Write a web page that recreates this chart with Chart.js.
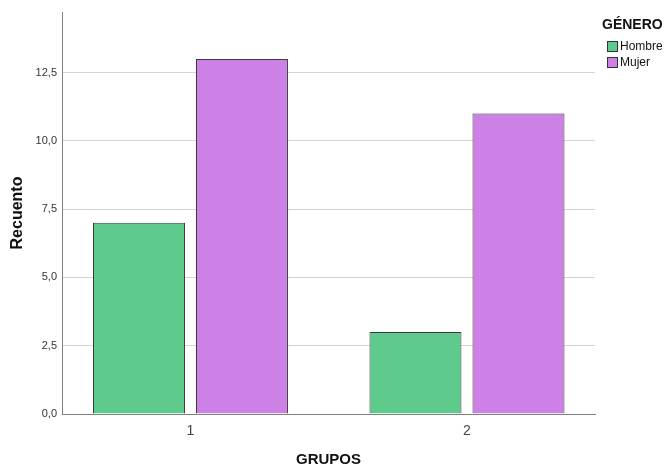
<!DOCTYPE html>
<html>
<head>
<meta charset="utf-8">
<script src="https://cdn.jsdelivr.net/npm/chart.js@4/dist/chart.umd.min.js"></script>
<style>
  html, body { margin: 0; padding: 0; background: #fff; }
  #wrap { position: relative; width: 671px; height: 466px; font-family: "Liberation Sans", Arial, sans-serif; }
  #legend { position: absolute; left: 602px; top: 16px; color: #111; }
  #legend .title { font-weight: bold; font-size: 14px; margin-bottom: 6px; }
  #legend .item { display: flex; align-items: center; font-size: 12px; height: 16px; margin-left: 5px; }
  #legend .box { width: 11px; height: 11px; border: 1px solid #333; margin-right: 2px; box-sizing: border-box; }
</style>
</head>
<body>
<div id="wrap">
  <canvas id="chart" width="671" height="466"></canvas>
  <div id="legend"></div>
</div>
<script>
const grupos = ["1", "2"];
const hombre = [7, 3];
const mujer = [13, 11];
const yTicks = [0, 2.5, 5, 7.5, 10, 12.5];
const series = [
  { name: "Hombre", values: hombre, color: "#5ECA8B" },
  { name: "Mujer", values: mujer, color: "#CD80E6" },
];

const FONT = "'Liberation Sans', Arial, sans-serif";

document.getElementById("legend").innerHTML =
  '<div class="title">GÉNERO</div>' +
  series
    .map((s) => `<div class="item"><span class="box" style="background:${s.color}"></span>${s.name}</div>`)
    .join("");

new Chart(document.getElementById("chart"), {
  type: "bar",
  data: {
    datasets: series.map((s) => ({
      label: s.name,
      data: grupos.map((g, i) => ({ x: i + 1, y: s.values[i] })),
      backgroundColor: s.color,
      borderColor: "#3a3a3a",
      borderWidth: 1,
      categoryPercentage: 0.745,
      barPercentage: 0.893,
    })),
  },
  options: {
    responsive: false,
    animation: false,
    layout: { padding: { top: 12, right: 76, left: 0, bottom: 0 } },
    plugins: { legend: { display: false }, tooltip: { enabled: false } },
    scales: {
      x: {
        type: "linear",
        offset: false,
        min: 0.5353,
        max: 2.463,
        afterBuildTicks: (scale) => {
          scale.ticks = grupos.map((g, i) => ({ value: i + 1 }));
        },
        afterFit: (scale) => { scale.height = 52; },
        ticks: {
          callback: (value) => grupos[value - 1] ?? "",
          color: "#444",
          padding: 9,
          font: { family: FONT, size: 14 },
        },
        grid: { display: false, drawTicks: false },
        border: { display: true, color: "#808080", width: 1 },
        title: {
          display: true,
          text: "GRUPOS",
          color: "#111",
          padding: { top: 0, bottom: -1.5 },
          font: { family: FONT, size: 15, weight: "bold", lineHeight: 1 },
        },
      },
      y: {
        min: 0,
        max: 14.72,
        afterBuildTicks: (scale) => {
          scale.ticks = yTicks.map((v) => ({ value: v }));
        },
        afterFit: (scale) => { scale.width = 62; },
        ticks: {
          callback: (value) => value.toFixed(1).replace(".", ","),
          color: "#333",
          padding: 5,
          font: { family: FONT, size: 11 },
        },
        grid: { color: "#d4d4d4", lineWidth: 1, drawTicks: false },
        border: { display: true, color: "#808080", width: 1 },
        title: {
          display: true,
          text: "Recuento",
          color: "#111",
          padding: { top: 10, bottom: 0 },
          font: { family: FONT, size: 16, weight: "bold", lineHeight: 1 },
        },
      },
    },
  },
});
</script>
</body>
</html>
